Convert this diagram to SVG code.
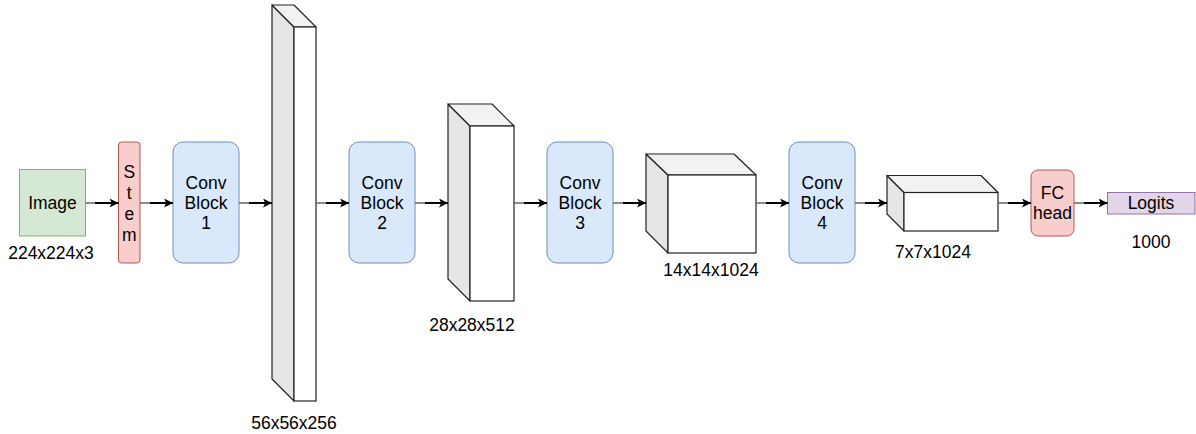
<svg xmlns="http://www.w3.org/2000/svg" width="1196" height="434" viewBox="0 0 1196 434">
<defs>
<style>
text{font-family:"Liberation Sans",Arial,sans-serif;font-size:17.5px;fill:#000;text-anchor:middle}
.conv{fill:#dae8fc;stroke:#6c8ebf;stroke-width:1}
.red{fill:#f8cecc;stroke:#b85450;stroke-width:1}
.side{fill:#e6e6e6;stroke:#222;stroke-width:1.2;stroke-linejoin:round}
.top{fill:#f2f2f2;stroke:#222;stroke-width:1.2;stroke-linejoin:round}
.front{fill:#fff;stroke:#222;stroke-width:1.2}
.g{stroke:#666;stroke-width:1.5;fill:none}
.b{stroke:#000;stroke-width:2;fill:none;marker-end:url(#ah)}
</style>
<marker id="ah" viewBox="0 0 10 10" refX="10" refY="5" markerWidth="4.5" markerHeight="4.5" markerUnits="strokeWidth" orient="auto">
<path d="M0,0 L10,5 L0,10 L2.5,5 Z" fill="#000"/>
</marker>
</defs>
<g id="image">
<rect x="19.5" y="169.5" width="66" height="66.5" fill="#d5e8d4" stroke="#82b366"/>
<text x="52.5" y="209">Image</text>
<text x="51" y="259">224x224x3</text>
</g>
<g id="stem">
<rect class="red" x="118.5" y="142" width="21.5" height="121" rx="3"/>
<text x="129.3" y="178">S</text>
<text x="129.3" y="199">t</text>
<text x="129.3" y="220">e</text>
<text x="129.3" y="241">m</text>
</g>
<g id="conv1">
<rect class="conv" x="173" y="142" width="66" height="121" rx="10"/>
<text x="206" y="189">Conv</text>
<text x="206" y="209">Block</text>
<text x="206" y="229">1</text>
</g>
<g id="fmap1">
<polygon class="side" points="272,5 294,27 294,401 272,379"/>
<polygon class="top" points="272,5 294,5 316,27 294,27"/>
<rect class="front" x="294" y="27" width="22" height="374"/>
<text x="294" y="429">56x56x256</text>
</g>
<g id="conv2">
<rect class="conv" x="349" y="142" width="66" height="121" rx="10"/>
<text x="382" y="189">Conv</text>
<text x="382" y="209">Block</text>
<text x="382" y="229">2</text>
</g>
<g id="fmap2">
<polygon class="side" points="448,104 470,126 470,301 448,279"/>
<polygon class="top" points="448,104 492,104 514,126 470,126"/>
<rect class="front" x="470" y="126" width="44" height="175"/>
<text x="472" y="331">28x28x512</text>
</g>
<g id="conv3">
<rect class="conv" x="547" y="142" width="66" height="121" rx="10"/>
<text x="580" y="189">Conv</text>
<text x="580" y="209">Block</text>
<text x="580" y="229">3</text>
</g>
<g id="fmap3">
<polygon class="side" points="646,154 668,175 668,253 646,231"/>
<polygon class="top" points="646,154 734,154 756,175 668,175"/>
<rect class="front" x="668" y="175" width="88" height="78"/>
<text x="711" y="276">14x14x1024</text>
</g>
<g id="conv4">
<rect class="conv" x="789" y="142" width="66" height="121" rx="10"/>
<text x="822" y="189">Conv</text>
<text x="822" y="209">Block</text>
<text x="822" y="229">4</text>
</g>
<g id="fmap4">
<polygon class="side" points="887,175.5 904,192.5 904,231 887,214"/>
<polygon class="top" points="887,175.5 981,175.5 998,192.5 904,192.5"/>
<rect class="front" x="904" y="192.5" width="94" height="38.5"/>
<text x="933" y="258">7x7x1024</text>
</g>
<g id="fchead">
<rect class="red" x="1031" y="170" width="43" height="66" rx="7"/>
<text x="1052.5" y="199">FC</text>
<text x="1052.5" y="219">head</text>
</g>
<g id="logits">
<rect x="1107.5" y="192.5" width="87.5" height="21.5" fill="#e1d5e7" stroke="#9673a6"/>
<text x="1151" y="209">Logits</text>
<text x="1151" y="248">1000</text>
</g>
<g id="connectors">
<path class="g" d="M85.5,203 H100"/><path class="b" d="M95,203 H118.5"/>
<path class="g" d="M140,203 H155"/><path class="b" d="M150,203 H173"/>
<path class="g" d="M239,203 H254"/><path class="b" d="M249,203 H272"/>
<path class="g" d="M316,203 H331"/><path class="b" d="M326,203 H349"/>
<path class="g" d="M415,203 H430"/><path class="b" d="M425,203 H448"/>
<path class="g" d="M514,203 H529"/><path class="b" d="M524,203 H547"/>
<path class="g" d="M613,203 H628"/><path class="b" d="M623,203 H646"/>
<path class="g" d="M756,203 H771"/><path class="b" d="M766,203 H789"/>
<path class="g" d="M855,203 H870"/><path class="b" d="M865,203 H887"/>
<path class="g" d="M998,203 H1013"/><path class="b" d="M1008,203 H1031"/>
<path class="g" d="M1074,203 H1089"/><path class="b" d="M1084,203 H1107.5"/>
</g>
</svg>
